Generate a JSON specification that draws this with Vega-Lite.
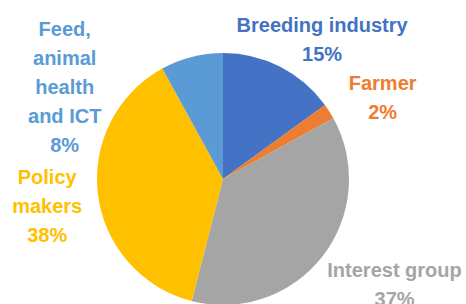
{
  "$schema": "https://vega.github.io/schema/vega-lite/v6.json",
  "width": 446,
  "height": 304,
  "autosize": {"type": "none"},
  "padding": {"left": 0, "top": 27, "right": 20, "bottom": -27},
  "background": "white",
  "config": {"view": {"stroke": null}},
  "data": {
    "values": [
      {"cat": "Breeding industry", "value": 15, "order": 1, "label": ["Breeding industry", "15%"]},
      {"cat": "Farmer", "value": 2, "order": 2, "label": ["Farmer", "2%"]},
      {"cat": "Interest group", "value": 37, "order": 3, "label": ["Interest group", "37%"]},
      {"cat": "Policy makers", "value": 38, "order": 4, "label": ["Policy", "makers", "38%"]},
      {"cat": "Feed, animal health and ICT", "value": 8, "order": 5, "label": ["Feed,", "animal", "health", "and ICT", "8%"]}
    ]
  },
  "encoding": {
    "theta": {"field": "value", "type": "quantitative", "stack": true},
    "order": {"field": "order", "type": "quantitative"},
    "color": {
      "field": "cat",
      "type": "nominal",
      "legend": null,
      "scale": {
        "domain": ["Breeding industry", "Farmer", "Interest group", "Policy makers", "Feed, animal health and ICT"],
        "range": ["#4472C4", "#ED7D31", "#A5A5A5", "#FFC000", "#5B9BD5"]
      }
    }
  },
  "layer": [
    {"mark": {"type": "arc", "radius": 126}},
    {
      "mark": {"type": "text", "radius": 150, "dx": 31, "dy": -19, "font": "Liberation Sans", "fontWeight": "bold", "fontSize": 20, "lineHeight": 29, "align": "center", "baseline": "middle"},
      "encoding": {"text": {"condition": {"test": "datum.cat === 'Breeding industry'", "field": "label", "type": "nominal"}, "value": ""}}
    },
    {
      "mark": {"type": "text", "radius": 150, "dx": 33, "dy": -15, "font": "Liberation Sans", "fontWeight": "bold", "fontSize": 20, "lineHeight": 29, "align": "center", "baseline": "middle"},
      "encoding": {"text": {"condition": {"test": "datum.cat === 'Farmer'", "field": "label", "type": "nominal"}, "value": ""}}
    },
    {
      "mark": {"type": "text", "radius": 150, "dx": 53, "dy": 0, "font": "Liberation Sans", "fontWeight": "bold", "fontSize": 20, "lineHeight": 29, "align": "center", "baseline": "middle"},
      "encoding": {"text": {"condition": {"test": "datum.cat === 'Interest group'", "field": "label", "type": "nominal"}, "value": ""}}
    },
    {
      "mark": {"type": "text", "radius": 150, "dx": -27, "dy": -20, "font": "Liberation Sans", "fontWeight": "bold", "fontSize": 20, "lineHeight": 29, "align": "center", "baseline": "middle"},
      "encoding": {"text": {"condition": {"test": "datum.cat === 'Policy makers'", "field": "label", "type": "nominal"}, "value": ""}}
    },
    {
      "mark": {"type": "text", "radius": 150, "dx": -121, "dy": -4, "font": "Liberation Sans", "fontWeight": "bold", "fontSize": 20, "lineHeight": 29, "align": "center", "baseline": "middle"},
      "encoding": {"text": {"condition": {"test": "datum.cat === 'Feed, animal health and ICT'", "field": "label", "type": "nominal"}, "value": ""}}
    }
  ]
}
